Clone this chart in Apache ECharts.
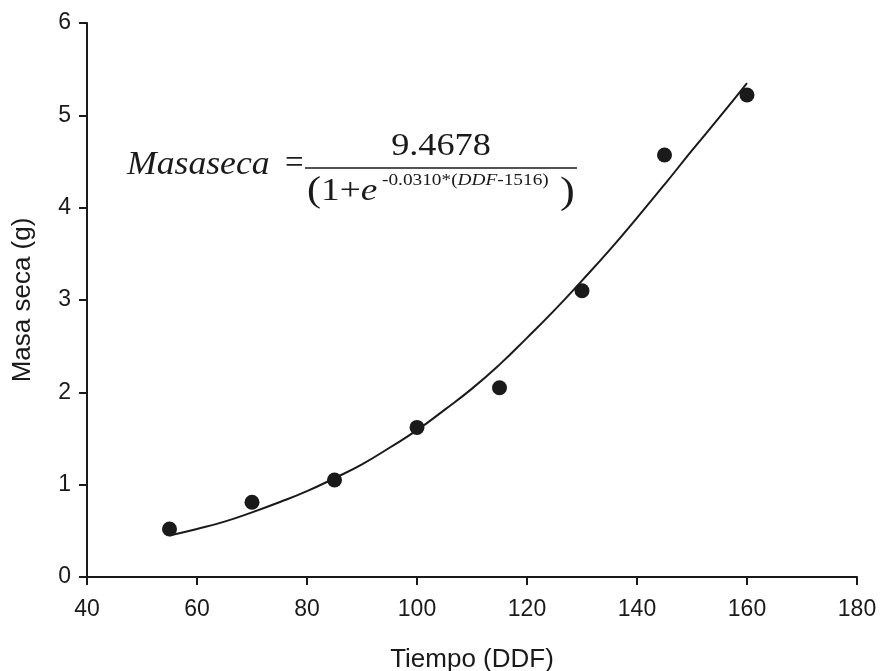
<!DOCTYPE html>
<html>
<head>
<meta charset="utf-8">
<script src="https://cdn.jsdelivr.net/npm/echarts@6/dist/echarts.min.js"></script>
<style>
  html, body { margin: 0; padding: 0; background: #fff; }
  #chart { width: 881px; height: 671px; }
</style>
</head>
<body>
<div id="chart"></div>
<script>
// observed points (DDF, g)
const obsX = [55, 70, 85, 100, 115, 130, 145, 160]
const obsY = [0.52, 0.81, 1.05, 1.62, 2.05, 3.10, 4.57, 5.22]

// fitted curve
const fitX = [55, 60, 65, 70, 75, 80, 85, 90, 95, 100, 105, 110, 115, 120, 125, 130, 135, 140, 145, 150, 155, 160]
const fitY = [0.45, 0.52, 0.60, 0.70, 0.81, 0.93, 1.07, 1.22, 1.40, 1.59, 1.81, 2.04, 2.30, 2.59, 2.89, 3.21, 3.54, 3.89, 4.25, 4.62, 4.98, 5.35]

const xTicks = [40, 60, 80, 100, 120, 140, 160, 180]
const yTicks = [0, 1, 2, 3, 4, 5, 6]

const ink = '#1a1a1a'
const serif = 'Liberation Serif'
const stretch = 1.17 // 公式字体在原图里被横向拉宽

const chart = echarts.init(document.getElementById('chart'))

// 公式标注
const equation = [
    {
        type: 'text', x: 127, y: 165, scaleX: 1.08,
        style: { text: 'Masaseca', font: 'italic 33px "Liberation Serif"', fill: ink, verticalAlign: 'middle' }
    },
    {
        type: 'text', x: 285, y: 164,
        style: { text: '=', font: '33px "Liberation Serif"', fill: ink, verticalAlign: 'middle' }
    },
    {
        type: 'text', x: 441, y: 147, scaleX: stretch,
        style: { text: '9.4678', font: '31px "Liberation Serif"', fill: ink, align: 'center', verticalAlign: 'middle' }
    },
    { type: 'line', shape: { x1: 305, y1: 168, x2: 577, y2: 168 }, style: { stroke: ink, lineWidth: 1.6 } },
    {
        type: 'text', x: 307, y: 192, scaleX: stretch,
        style: {
            text: '{p|(}{n|1+}{i|e}',
            verticalAlign: 'middle',
            rich: {
                p: { fontFamily: serif, fontSize: 36, fill: ink },
                n: { fontFamily: serif, fontSize: 32, fill: ink },
                i: { fontFamily: serif, fontSize: 32, fontStyle: 'italic', fill: ink }
            }
        }
    },
    {
        type: 'text', x: 382, y: 181, scaleX: stretch,
        style: {
            text: '{n|-0.0310*(}{i|DDF}{n|-1516)}',
            verticalAlign: 'middle',
            rich: {
                n: { fontFamily: serif, fontSize: 16.5, fill: ink },
                i: { fontFamily: serif, fontSize: 16.5, fontStyle: 'italic', fill: ink }
            }
        }
    },
    {
        type: 'text', x: 560, y: 193, scaleX: stretch,
        style: { text: ')', font: '38px "Liberation Serif"', fill: ink, verticalAlign: 'middle' }
    }
]

const axisCommon = {
    type: 'value',
    nameLocation: 'middle',
    nameTextStyle: { fontFamily: 'Liberation Sans', fontSize: 26, color: ink },
    axisLine: { show: true, onZero: false, lineStyle: { color: ink, width: 2 } },
    axisTick: { show: true, inside: false, length: 8, lineStyle: { color: ink, width: 2 } },
    axisLabel: { fontFamily: 'Liberation Sans', fontSize: 23, color: ink },
    splitLine: { show: false }
}

chart.setOption({
    animation: false,
    backgroundColor: '#fff',
    grid: { left: 87, right: 24, top: 23, bottom: 94, containLabel: false, outerBoundsMode: 'none' },
    xAxis: {
        ...axisCommon,
        name: 'Tiempo (DDF)',
        nameGap: 70,
        min: xTicks[0],
        max: xTicks[xTicks.length - 1],
        interval: xTicks[1] - xTicks[0],
        axisLabel: { ...axisCommon.axisLabel, margin: 21 }
    },
    yAxis: {
        ...axisCommon,
        name: 'Masa seca (g)',
        nameGap: 51,
        min: yTicks[0],
        max: yTicks[yTicks.length - 1],
        interval: yTicks[1] - yTicks[0],
        axisLabel: { ...axisCommon.axisLabel, margin: 16 }
    },
    series: [
        {
            type: 'line',
            data: fitX.map((x, i) => [x, fitY[i]]),
            showSymbol: false,
            smooth: true,
            lineStyle: { color: ink, width: 2 },
            z: 2
        },
        {
            type: 'scatter',
            data: obsX.map((x, i) => [x, obsY[i]]),
            symbolSize: 15,
            itemStyle: { color: ink, opacity: 1 },
            z: 3
        }
    ],
    graphic: equation
})
</script>
</body>
</html>
